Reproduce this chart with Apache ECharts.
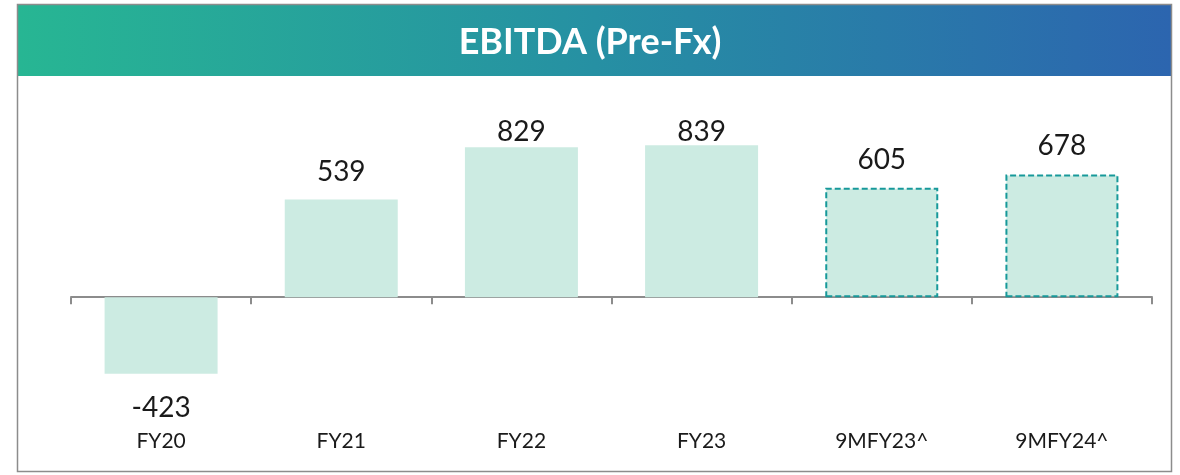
<!DOCTYPE html>
<html lang="en">
<head>
    <meta charset="UTF-8">
    <title>EBITDA (Pre-Fx)</title>
    <script src="https://cdn.jsdelivr.net/npm/echarts@6/dist/echarts.min.js"></script>
    <style>
        html, body { margin: 0; padding: 0; background: #fff; }
        #chart { width: 1180px; height: 475px; }
    </style>
</head>
<body>
<div id="chart"></div>
<script type="text/javascript">
    // data
    var titleText = 'EBITDA (Pre-Fx)';
    var categories = ['FY20', 'FY21', 'FY22', 'FY23', '9MFY23^', '9MFY24^'];
    var ebitda = [-423, 539, 829, 839, 605, 678];
    var dashed = [false, false, false, false, true, true];

    var myChart = echarts.init(document.getElementById('chart'));

    var barData = [];
    for (var i = 0; i < ebitda.length; i++) {
        var item = {
            value: ebitda[i],
            label: {
                position: ebitda[i] < 0 ? 'bottom' : 'top',
                distance: ebitda[i] < 0 ? 20 : 14
            }
        };
        if (dashed[i]) {
            item.itemStyle = {
                borderColor: '#17999A',
                borderWidth: 2,
                borderType: [6, 3]
            };
        }
        barData.push(item);
    }

    // labels are kept inside the plot area, like the excel original
    var labelTopLimit = 118;

    var option = {
        animation: false,
        textStyle: { fontFamily: 'Lato' },
        graphic: [{
            type: 'rect',
            shape: { x: 17.5, y: 4.5, width: 1154, height: 467 },
            style: { fill: 'none', stroke: '#8c8c8c', lineWidth: 1.5 },
            z: 10
        }, {
            type: 'rect',
            shape: { x: 18, y: 5, width: 1153, height: 71 },
            style: {
                fill: new echarts.graphic.LinearGradient(0, 0, 1, 0, [
                    { offset: 0, color: '#27B693' },
                    { offset: 0.5, color: '#2690A3' },
                    { offset: 1, color: '#2C65AF' }
                ])
            },
            z: 5
        }, {
            type: 'text',
            left: 'center',
            top: 24,
            style: {
                text: titleText,
                fill: '#ffffff',
                font: 'bold 36px Lato'
            },
            z: 11
        }],
        grid: [{
            left: 71,
            right: 28,
            top: 80,
            bottom: 15,
            outerBoundsMode: 'none',
            containLabel: false
        }, {
            left: 71,
            right: 28,
            top: 420,
            height: 2,
            outerBoundsMode: 'none',
            containLabel: false
        }],
        xAxis: [{
            type: 'category',
            data: categories,
            axisLine: { onZero: true, lineStyle: { color: '#8c8c8c', width: 2 } },
            axisTick: { show: true, length: 7, lineStyle: { color: '#8c8c8c', width: 2 } },
            axisLabel: { show: false },
            splitLine: { show: false }
        }, {
            type: 'category',
            gridIndex: 1,
            position: 'bottom',
            data: categories,
            axisLine: { show: false },
            axisTick: { show: false },
            axisLabel: {
                margin: 9,
                color: '#1a1a1a',
                fontSize: 21,
                fontFamily: 'Lato'
            },
            splitLine: { show: false }
        }],
        yAxis: [{
            type: 'value',
            min: -900,
            max: 1200,
            show: false
        }, {
            type: 'value',
            gridIndex: 1,
            show: false
        }],
        series: [{
            type: 'bar',
            data: barData,
            barWidth: 113,
            itemStyle: { color: '#CCEBE2' },
            label: {
                show: true,
                color: '#1a1a1a',
                fontSize: 28,
                fontFamily: 'Lato'
            },
            labelLayout: function (params) {
                if (params.labelRect.y < labelTopLimit) {
                    return { dy: labelTopLimit - params.labelRect.y };
                }
                return {};
            }
        }]
    };
    myChart.setOption(option);
</script>
</body>
</html>
